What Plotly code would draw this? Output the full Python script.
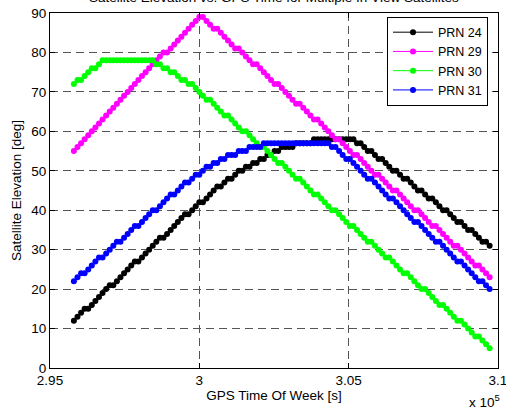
import plotly.graph_objects as go

# GPS time of week [s]
gps_time = [
    295800, 295920, 296040, 296160, 296280, 296400, 296520, 296640, 296760, 296880,
    297000, 297120, 297240, 297360, 297480, 297600, 297720, 297840, 297960, 298080,
    298200, 298320, 298440, 298560, 298680, 298800, 298920, 299040, 299160, 299280,
    299400, 299520, 299640, 299760, 299880, 300000, 300120, 300240, 300360, 300480,
    300600, 300720, 300840, 300960, 301080, 301200, 301320, 301440, 301560, 301680,
    301800, 301920, 302040, 302160, 302280, 302400, 302520, 302640, 302760, 302880,
    303000, 303120, 303240, 303360, 303480, 303600, 303720, 303840, 303960, 304080,
    304200, 304320, 304440, 304560, 304680, 304800, 304920, 305040, 305160, 305280,
    305400, 305520, 305640, 305760, 305880, 306000, 306120, 306240, 306360, 306480,
    306600, 306720, 306840, 306960, 307080, 307200, 307320, 307440, 307560, 307680,
    307800, 307920, 308040, 308160, 308280, 308400, 308520, 308640, 308760, 308880,
    309000, 309120, 309240, 309360, 309480, 309600, 309720,
]

prn24 = [
    12, 13, 14, 15, 15, 16, 17, 18, 19, 20, 21, 21, 22, 23, 24, 25, 26, 27, 27, 28,
    29, 30, 31, 32, 33, 33, 34, 35, 36, 37, 38, 39, 39, 40, 41, 42,
    42, 43, 44, 45, 46, 46, 47, 48, 48, 49, 50, 50, 51, 51, 52, 52, 53, 53, 54, 54,
    55, 55, 56, 56, 56, 56, 57, 57, 57, 57, 57, 58, 58, 58, 58, 58, 58,
    58, 58, 58, 58, 58, 58, 57, 57, 56,
    55, 55, 54, 53, 53, 52, 51, 50, 50, 49, 48, 48, 47, 46, 45, 45, 44, 43, 43, 42,
    41, 40, 40, 39, 38, 37, 37, 36, 35, 35, 34, 33, 32, 32, 31,
]

prn29 = [
    55, 56, 57, 58, 59, 60, 61, 62, 63, 64, 65, 66, 67, 68, 69, 70, 71, 72, 73, 74,
    75, 76, 77, 78, 79, 80, 80, 81, 82, 83, 84, 85, 86, 87,
    88, 89, 89,
    88, 87, 86, 86, 85, 84, 83, 82, 81, 81, 80, 79, 78, 77, 77, 76, 75, 74, 73, 72,
    72, 71, 70, 69, 68, 67, 67, 66, 65, 64, 63, 63, 62, 61, 60, 59, 58, 58, 57, 56,
    55, 54, 54, 53, 52, 51, 50, 49, 49, 48, 47, 46, 45, 45, 44, 43, 42, 41, 40, 40,
    39, 38, 37, 36, 36, 35, 34, 33, 32, 31, 31, 30, 29, 28, 27, 26, 26, 25, 24, 23,
]

prn30 = [
    72, 73, 73, 74, 75, 76, 76, 77, 78,
    78, 78, 78, 78, 78, 78, 78, 78, 78, 78, 78, 78, 78, 78,
    77, 77, 76, 76, 75, 75, 74, 73, 73, 72, 72, 71, 70,
    69, 68, 68, 67, 66, 65, 64, 64, 63, 62, 61, 60, 60, 59, 58, 57, 56, 56, 55, 54,
    53, 52, 52, 51, 50, 49, 48, 48, 47, 46, 45, 44, 44, 43, 42, 41, 40, 40, 39, 38,
    37, 36, 36, 35, 34, 33, 32, 32, 31, 30, 29, 28, 28, 27, 26, 25, 24, 24, 23, 22,
    21, 20, 20, 19, 18, 17, 16, 16, 15, 14, 13, 12, 12, 11, 10, 9, 8, 8, 7, 6, 5,
]

prn31 = [
    22, 23, 24, 24, 25, 26, 27, 28, 28, 29, 30, 31, 32, 32, 33, 34, 35, 36, 36, 37,
    38, 39, 40, 40, 41, 42, 43, 44, 44,
    45, 46, 47, 47, 48, 49, 49, 50, 51, 51, 52, 52, 53, 53, 54, 54, 54, 55, 55, 55,
    56, 56, 56, 56, 57, 57, 57, 57, 57, 57, 57, 57,
    57, 57, 57, 57, 57, 57, 57, 57, 57, 57,
    57, 56, 56, 55, 54,
    53, 53, 52, 51, 50, 49, 48, 48, 47, 46, 45, 44, 43, 43, 42, 41, 40, 39, 38, 37,
    37, 36, 35, 34, 33, 32, 32, 31, 30, 29, 28, 27, 27, 26, 25, 24, 23, 22, 22, 21, 20,
]

series_names = ["PRN 24", "PRN 29", "PRN 30", "PRN 31"]
series_values = [prn24, prn29, prn30, prn31]
series_colors = ["#000000", "#ff00ff", "#00ff00", "#0000ff"]

x_tickvals = [295000, 300000, 305000, 310000]
x_ticktext = ["2.95", "3", "3.05", "3.1"]
y_tickvals = [0, 10, 20, 30, 40, 50, 60, 70, 80, 90]

FONT = "Arial, Liberation Sans, sans-serif"
FS = 13.5

fig = go.Figure()
for name, vals, col in zip(series_names, series_values, series_colors):
    fig.add_trace(go.Scatter(
        x=gps_time, y=vals, name=name, mode="lines+markers",
        line=dict(color=col, width=1),
        marker=dict(color=col, size=6),
    ))

axis_common = dict(
    showline=True, linecolor="black", linewidth=1, mirror="allticks",
    ticks="inside", ticklen=5, tickcolor="black", tickwidth=1,
    showgrid=True, gridcolor="#555555", gridwidth=1, griddash="8px,5px",
    zeroline=False, tickfont=dict(family=FONT, size=FS, color="black"),
    ticklabeloverflow="allow", automargin=False,
)

fig.update_xaxes(range=[295000, 310000.5], tickvals=x_tickvals, ticktext=x_ticktext,
                 ticklabelstandoff=0,
                 title=dict(text="GPS Time Of Week [s]", font=dict(family=FONT, size=FS, color="black"), standoff=2),
                 **axis_common)
fig.update_yaxes(range=[0, 90], tickvals=y_tickvals,
                 title=dict(text="Satellite Elevation [deg]", font=dict(family=FONT, size=FS, color="black"), standoff=6),
                 **axis_common)

fig.add_annotation(text="Satellite Elevation vs. GPS Time for Multiple In View Satellites",
                   xref="paper", yref="paper", x=0.5, y=1, yanchor="bottom", yshift=6,
                   showarrow=False, font=dict(family=FONT, size=FS, color="black"))
fig.add_annotation(text="x 10<sup>5</sup>", xref="paper", yref="paper", x=1, y=0,
                   xanchor="right", yanchor="top", yshift=-22, xshift=4,
                   showarrow=False, font=dict(family=FONT, size=FS, color="black"))

fig.update_layout(
    width=506, height=410,
    margin=dict(l=50, r=8, t=13, b=42, autoexpand=False),
    paper_bgcolor="white", plot_bgcolor="white",
    showlegend=True,
    legend=dict(x=0.9777, y=0.99, xanchor="right", yanchor="top",
                bgcolor="white", bordercolor="black", borderwidth=1,
                font=dict(family=FONT, size=12.5, color="black"),
                itemwidth=40, tracegroupgap=0),
    font=dict(family=FONT, size=FS, color="black"),
)

fig.write_html("out.html")
